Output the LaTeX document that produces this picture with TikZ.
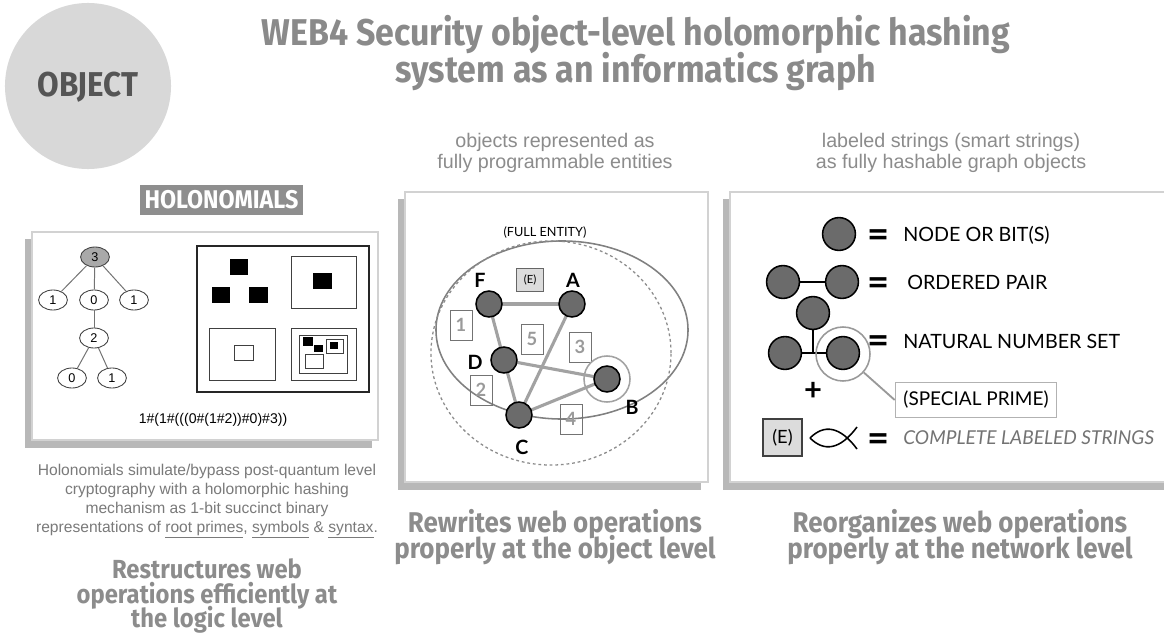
\documentclass[tikz,border=0pt]{standalone}
\usepackage{fontspec}
\setmainfont{Liberation Sans}
\newfontfamily\dispfont{Fira Sans}[FakeStretch=0.91]
\newfontfamily\legfont{Lato}
\usetikzlibrary{shapes.geometric}
\newcommand\tightlines{\lineskiplimit=-30pt\lineskip=0pt\relax}

\definecolor{objfill}{HTML}{D8D8D8}
\definecolor{objtext}{HTML}{555555}
\definecolor{titlegray}{HTML}{8A8A8A}
\definecolor{holgray}{HTML}{8E8E8E}
\definecolor{panelline}{HTML}{D2D2D2}
\definecolor{shadowgray}{HTML}{B8B8B8}
\definecolor{bodygray}{HTML}{7A7A7A}
\definecolor{capgray}{HTML}{8C8C8C}
\definecolor{nodegray}{HTML}{6B6B6B}
\definecolor{edgegray}{HTML}{A2A2A2}
\definecolor{numgray}{HTML}{9A9A9A}
\definecolor{rootgray}{HTML}{A9A9A9}
\definecolor{ebox}{HTML}{DCDCDC}

\tikzset{
  disp/.style n args={2}{font=\dispfont\bfseries\fontsize{#1}{#2}\selectfont\tightlines, text=capgray, align=center},
  tnode/.style={ellipse, draw=black!75, line width=0.6pt, minimum width=0.72cm, minimum height=0.5cm, inner sep=0pt, font=\fontsize{9}{10}\selectfont},
  tedge/.style={draw=black!55, line width=0.7pt},
  gnode/.style={circle, fill=nodegray, draw=black, line width=1.1pt, minimum size=0.65cm, inner sep=0pt},
  lnode/.style={circle, fill=nodegray, draw=black, line width=1.1pt, minimum size=0.82cm, inner sep=0pt},
  gedge/.style={draw=edgegray, line width=2.2pt},
  numbox/.style={draw=black!55, line width=0.6pt, minimum width=0.55cm, minimum height=0.75cm, inner sep=0pt, text=numgray, font=\legfont\bfseries\fontsize{13}{14}\selectfont},
  glabel/.style={font=\legfont\bfseries\fontsize{14}{15}\selectfont, inner sep=0pt},
  legtext/.style={anchor=west, inner sep=0pt, font=\legfont\fontsize{14}{16}\selectfont},
  eqsign/.style={inner sep=0pt, font=\legfont\bfseries\fontsize{27}{27}\selectfont},
  panelbox/.style={draw=panelline, line width=1.6pt, fill=white},
  bodytext/.style={text=bodygray, align=center, font=\fontsize{11.1}{13.5}\selectfont\tightlines},
  captext/.style={text=capgray, align=center, font=\fontsize{14}{15}\selectfont\tightlines}
}

\begin{document}
\begin{tikzpicture}[x=0.025cm, y=-0.025cm]
\useasboundingbox (0,0) rectangle (1164,637);
\fill[white] (0,0) rectangle (1164,637);

% badge and heading
\node[circle, fill=objfill, minimum size=4.15cm, inner sep=0pt] (obj) at (88,86) {};
\node[font=\dispfont\bfseries\fontsize{24.5}{26}\selectfont, text=objtext] (objlabel) at (88,87) {OBJECT};
\node[disp={26.5}{26.2}, text=titlegray] (title) at (636,53) {WEB4 Security object-level holomorphic hashing\\system as an informatics graph};

% ---------- left panel: holonomials ----------
\node[fill=holgray, text=white, font=\dispfont\bfseries\fontsize{18.2}{19}\selectfont, minimum width=4.075cm, minimum height=0.75cm, inner sep=0pt] (hol) at (221.5,200) {HOLONOMIALS};
\fill[shadowgray] (25,239) rectangle (372,448);
\draw[panelbox] (32,232) rectangle (378,440);

\node[tnode, fill=rootgray] (t3) at (95,257) {3};
\node[tnode] (t1a) at (53,300) {1};
\node[tnode] (t0a) at (94,300) {0};
\node[tnode] (t1b) at (134,300) {1};
\node[tnode] (t2) at (94,338) {2};
\node[tnode] (t0b) at (72,378) {0};
\node[tnode] (t1c) at (112,378) {1};
\draw[tedge] (t3) -- (t1a);
\draw[tedge] (t3) -- (t0a);
\draw[tedge] (t3) -- (t1b);
\draw[tedge] (t0a) -- (t2);
\draw[tedge] (t2) -- (t0b);
\draw[tedge] (t2) -- (t1c);

% nested boxes
\draw[black!85, line width=0.9pt] (197,246) rectangle (369,392);
\fill[black] (230,259) rectangle (248,275);
\fill[black] (212,287) rectangle (230,303);
\fill[black] (249,287) rectangle (268,303);
\draw[black!75, line width=0.7pt] (291,256) rectangle (356,308);
\fill[black] (313,273) rectangle (332,289);
\draw[black!75, line width=0.7pt] (209,328) rectangle (275,380);
\draw[black!75, line width=0.6pt] (234,345) rectangle (253,360);
\draw[black!75, line width=0.7pt] (291,328) rectangle (356,380);
\draw[black!75, line width=0.6pt] (299,335) rectangle (347,373);
\fill[black] (303,337) rectangle (313,346);
\fill[black] (314,345) rectangle (323,352);
\draw[black!75, line width=0.6pt] (326,339) rectangle (343,353);
\fill[black] (330,342) rectangle (338,349);
\draw[black!75, line width=0.6pt] (305,354) rectangle (323,368);

\node[font=\fontsize{10}{12}\selectfont] (formula) at (213,420) {1\#(1\#(((0\#(1\#2))\#0)\#3))};

\node[bodytext] (holtext) at (207,501) {Holonomials simulate/bypass post-quantum level\\cryptography with a holomorphic hashing\\mechanism as 1-bit succinct binary\\representations of \underline{root primes}, \underline{symbols} \& \underline{syntax}.};
\node[disp={18.6}{17.7}] (leftcap) at (207,596) {Restructures web\\operations efficiently at\\the logic level};

% ---------- middle panel: full entity ----------
\node[captext] (midcap) at (555,153) {objects represented as\\fully programmable entities};
\fill[shadowgray] (398,199) rectangle (701,490);
\draw[panelbox] (405,192) rectangle (708,482);

\node[font=\legfont\fontsize{9}{10}\selectfont] (full) at (545,233) {(FULL ENTITY)};
\draw[black!50, line width=1.1pt] (562,330) ellipse [x radius=3.15cm, y radius=2.225cm];
\draw[black!45, line width=0.9pt, dash pattern=on 2pt off 2pt] (551,353) ellipse [x radius=3.0cm, y radius=2.8cm];

\node[numbox] (b1) at (461,325) {1};
\node[numbox] (b5) at (532,339) {5};
\node[numbox] (b3) at (580,347) {3};
\node[numbox] (b2) at (481,390) {2};
\node[numbox] (b4) at (571,419) {4};
\node[draw=black!60, fill=ebox, line width=0.6pt, minimum width=0.68cm, minimum height=0.58cm, inner sep=0pt, font=\legfont\fontsize{8}{9}\selectfont] (emid) at (530,280) {(E)};

\coordinate (Fc) at (489,304);
\coordinate (Ac) at (572,304);
\coordinate (Dc) at (504,360);
\coordinate (Cc) at (519,415);
\coordinate (Bc) at (607,379);
\draw[edgegray, line width=1.1pt] (Bc) circle [radius=0.575cm];
\draw[gedge] (Fc) -- (Ac);
\draw[gedge] (Fc) -- (Dc);
\draw[gedge] (Dc) -- (Cc);
\draw[gedge] (Dc) -- (Bc);
\draw[gedge] (Cc) -- (Ac);
\draw[gedge] (Cc) -- (Bc);
\node[gnode] (F) at (Fc) {};
\node[gnode] (A) at (Ac) {};
\node[gnode] (D) at (Dc) {};
\node[gnode] (C) at (Cc) {};
\node[gnode] (B) at (Bc) {};
\node[glabel] (lF) at (480,280) {F};
\node[glabel] (lA) at (573,280) {A};
\node[glabel] (lD) at (475,362) {D};
\node[glabel] (lC) at (522,447) {C};
\node[glabel] (lB) at (632,407) {B};

\node[disp={20.3}{18.4}] (midbot) at (555,537) {Rewrites web operations\\properly at the object level};

% ---------- right panel: legend ----------
\node[captext] (rightcap) at (951,153) {labeled strings (smart strings)\\as fully hashable graph objects};
\fill[shadowgray] (723,199) rectangle (1170,490);
\draw[panelbox] (730,192) rectangle (1175,482);

\node[lnode] (n1) at (839,234) {};
\node[eqsign] (eq1) at (878,239) {=};
\node[legtext] (tx1) at (903,235) {NODE OR BIT(S)};

\node[lnode] (p1) at (783,282) {};
\node[lnode] (p2) at (842,282) {};
\draw[black, line width=1.3pt] (p1) -- (p2);
\node[eqsign] (eq2) at (878,287) {=};
\node[legtext] (tx2) at (907,282) {ORDERED PAIR};

\node[lnode] (s1) at (813,313) {};
\node[lnode] (s2) at (785,353) {};
\node[lnode] (s3) at (843,353) {};
\coordinate (sj) at (813,353);
\draw[black, line width=1.3pt] (s1) -- (sj);
\draw[black, line width=1.3pt] (s2) -- (s3);
\node[circle, draw=black!40, line width=1.1pt, minimum size=1.35cm, inner sep=0pt] (ring) at (843,354) {};
\node[eqsign] (eq3) at (878,345) {=};
\node[legtext] (tx3) at (903,341) {NATURAL NUMBER SET};

\node[font=\legfont\bfseries\fontsize{22}{22}\selectfont, inner sep=0pt] (plus) at (813,391) {+};
\node[draw=black!30, line width=1.1pt, minimum width=4.025cm, minimum height=0.875cm, inner sep=0pt, font=\legfont\fontsize{13.5}{15}\selectfont] (sp) at (976,400) {(SPECIAL PRIME)};
\draw[black!40, line width=1.3pt] (ring) -- (sp.west);

\node[draw=black!75, fill=ebox, line width=0.8pt, minimum width=0.975cm, minimum height=0.925cm, inner sep=0pt, font=\legfont\fontsize{13}{15}\selectfont] (eleg) at (782.5,437.5) {(E)};
% fish glyph
\draw[black, line width=1.1pt] (810,438) .. controls (824,424) and (840,426) .. (857,449);
\draw[black, line width=1.1pt] (810,438) .. controls (824,452) and (840,450) .. (857,427);
\node[eqsign] (eq4) at (878,443) {=};
\node[legtext, text=black!55, font=\legfont\itshape\fontsize{13.6}{15}\selectfont] (tx4) at (903,438) {COMPLETE LABELED STRINGS};

\node[disp={20.3}{18.4}] (rightbot) at (960,537) {Reorganizes web operations\\properly at the network level};
\end{tikzpicture}
\end{document}
